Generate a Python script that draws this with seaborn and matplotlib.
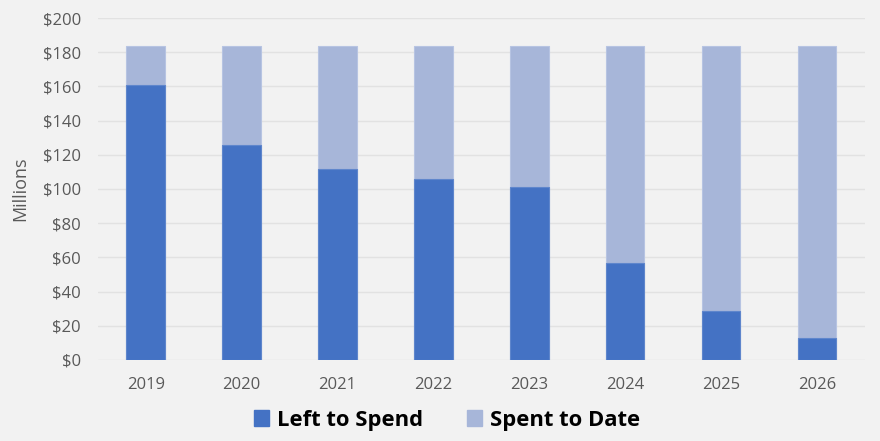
import seaborn as sns
import matplotlib.pyplot as plt
import pandas as pd
from matplotlib.patches import Patch

years = ["2019", "2020", "2021", "2022", "2023", "2024", "2025", "2026"]
left_to_spend = [160.8, 125.5, 111.8, 105.8, 101.2, 56.6, 28.6, 12.8]
spent_to_date = [23.0, 58.3, 72.0, 78.0, 82.6, 127.2, 155.2, 171.0]

df = pd.DataFrame({"year": years, "left": left_to_spend, "spent": spent_to_date})
df["total"] = df["left"] + df["spent"]

dark = "#4472C4"
light = "#A7B6D9"
bg = "#F2F2F2"

sns.set_theme(style="white")
plt.rcParams["font.family"] = ["Open Sans", "DejaVu Sans"]

fig = plt.figure(figsize=(8.8, 4.41), dpi=100, facecolor=bg)
ax = fig.add_axes([0.111, 0.184, 0.872, 0.775])
ax.set_facecolor(bg)

sns.barplot(data=df, x="year", y="total", color=light, width=0.4, saturation=1,
            edgecolor="#B7C4E2", linewidth=0.8, ax=ax, zorder=2)
sns.barplot(data=df, x="year", y="left", color=dark, width=0.4, saturation=1,
            edgecolor="#5F86CC", linewidth=0.8, ax=ax, zorder=3)

ax.set_ylim(0, 200)
ax.set_yticks(range(0, 201, 20))
ax.set_yticklabels([f"${v}" for v in range(0, 201, 20)])
ax.yaxis.grid(True, color="#E2E2E2", linewidth=1, zorder=0)
ax.set_axisbelow(True)
for s in ax.spines.values():
    s.set_visible(False)
ax.tick_params(axis="both", length=0, labelsize=12, labelcolor="#595959")
ax.tick_params(axis="x", pad=12)
ax.tick_params(axis="y", pad=12)
ax.set_xlabel("")
ax.set_ylabel("Millions", fontsize=13, color="#595959", labelpad=10)

handles = [Patch(facecolor=dark, edgecolor=dark, label="Left to Spend"),
           Patch(facecolor=light, edgecolor=light, label="Spent to Date")]
leg = fig.legend(handles=handles, loc="center", bbox_to_anchor=(0.508, 0.047), ncol=2,
                 frameon=False, prop={"weight": "bold", "size": 15.8},
                 handlelength=0.7, handleheight=0.7, handletextpad=0.35, columnspacing=2.0)
for t in leg.get_texts():
    t.set_color("black")

fig.savefig("out.png", dpi=100, facecolor=bg)
